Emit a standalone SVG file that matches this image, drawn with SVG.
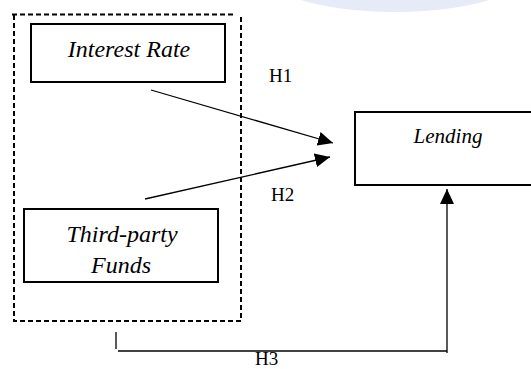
<svg xmlns="http://www.w3.org/2000/svg" width="531" height="369" viewBox="0 0 531 369">
<style>
.box{fill:#fff;stroke:#000;stroke-width:2}
.lbl{font-family:"Liberation Serif","Times New Roman",serif;font-style:italic;fill:#000;text-anchor:middle}
.h{font-family:"Liberation Serif","Times New Roman",serif;font-size:19px;fill:#000}
.con{fill:none;stroke:#000;stroke-width:1.3}
.dash{fill:none;stroke:#000;stroke-width:2;stroke-dasharray:5 3}
</style>
<defs>
<marker id="ah" markerUnits="userSpaceOnUse" markerWidth="16" markerHeight="14" refX="15" refY="7" orient="auto">
<path d="M0,0 L15,7 L0,14 z" fill="#000"/>
</marker>
</defs>
<rect width="531" height="369" fill="#fff"/>
<ellipse cx="395" cy="-42" rx="150" ry="54" fill="#e7eaf7"/>
<g id="group-box">
<path class="dash" d="M12,14.5 H233"/>
<path class="dash" d="M14,15 V321 H241 V15"/>
</g>
<g id="node-interest">
<rect class="box" x="31" y="24" width="194" height="58"/>
<text class="lbl" x="129" y="57" font-size="24">Interest Rate</text>
</g>
<g id="node-funds">
<rect class="box" x="24" y="209" width="194" height="73"/>
<text class="lbl" x="122" y="242" font-size="24">Third-party</text>
<text class="lbl" x="121" y="273" font-size="24">Funds</text>
</g>
<g id="node-lending">
<rect class="box" x="355" y="112" width="186" height="73"/>
<text class="lbl" x="448" y="143" font-size="21">Lending</text>
</g>
<g id="connectors">
<path class="con" d="M151,90 L333,143" marker-end="url(#ah)"/>
<path class="con" d="M145,199 L330,157" marker-end="url(#ah)"/>
<path class="con" d="M116,332 V349"/>
<path class="con" d="M118,351 H447"/>
<path class="con" d="M447,353 V189" marker-end="url(#ah)"/>
</g>
<g id="labels">
<text class="h" x="269" y="82">H1</text>
<text class="h" x="271" y="201">H2</text>
<text class="h" x="255" y="365">H3</text>
</g>
</svg>
